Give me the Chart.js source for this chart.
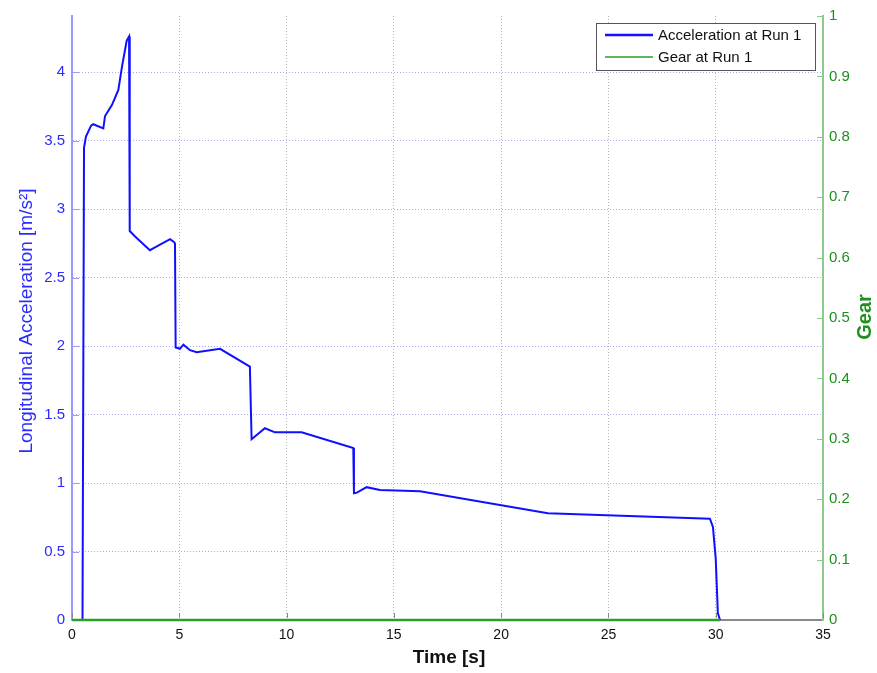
<!DOCTYPE html>
<html>
<head>
<meta charset="utf-8">
<title>Acceleration and gear, run 1</title>
<script src="https://cdn.jsdelivr.net/npm/chart.js@4.4.0/dist/chart.umd.min.js"></script>
<style>
  html, body { margin: 0; padding: 0; background: #fff; }
  canvas { display: block; }
</style>
</head>
<body>
<canvas id="chart" width="877" height="673"></canvas>
<script>
  // run 1 log: time [s], longitudinal acceleration [m/s^2], gear
  var accelTime = [0, 0.49, 0.56, 0.65, 0.89, 0.99, 1.46, 1.54, 1.86, 2.16, 2.33, 2.55, 2.66,
    2.69, 2.94, 3.63, 3.87, 4.57, 4.75, 4.80, 4.83, 5.03, 5.19, 5.50, 5.81, 6.90, 8.29,
    8.37, 8.99, 9.46, 10.70, 13.11, 13.14, 13.28, 13.73, 14.35, 16.22, 19.94, 22.18, 24.92,
    29.73, 29.87, 30.00, 30.04, 30.10, 30.20];
  var accelValues = [0, 0, 3.45, 3.53, 3.61, 3.62, 3.59, 3.68, 3.76, 3.87, 4.04, 4.23, 4.26,
    2.84, 2.80, 2.70, 2.72, 2.78, 2.76, 2.75, 1.99, 1.98, 2.01, 1.97, 1.955, 1.98, 1.85,
    1.32, 1.40, 1.37, 1.37, 1.255, 0.925, 0.93, 0.97, 0.95, 0.94, 0.84, 0.78, 0.765,
    0.74, 0.68, 0.45, 0.29, 0.05, 0];
  var gearTime = [0, 30.2];
  var gearValues = [0, 0];

  var timeTicks = [0, 5, 10, 15, 20, 25, 30, 35];
  var accelTicks = [0, 0.5, 1, 1.5, 2, 2.5, 3, 3.5, 4];
  var gearTicks = [0, 0.1, 0.2, 0.3, 0.4, 0.5, 0.6, 0.7, 0.8, 0.9, 1];

  var seriesLabels = ['Acceleration at Run 1', 'Gear at Run 1'];

  var BLUE = '#1010ff';
  var BLUE_TEXT = '#2b2bff';
  var BLUE_AXIS = '#9a9aff';
  var GREEN = '#2a9e2a';
  var GREEN_TEXT = '#1f8f1f';
  var GREEN_AXIS = '#8cc98c';
  var FONT = '"Liberation Sans", Arial, sans-serif';

  function toPoints(xs, ys) {
    return xs.map(function (x, i) { return { x: x, y: ys[i] }; });
  }

  function keepTicks(list) {
    return function (scale) {
      scale.ticks = list.map(function (v) { return { value: v }; });
    };
  }

  // plain numbers, no trailing ".0"
  function shortLabel(value) {
    return String(Number(value.toFixed(2)));
  }

  // titles, inward tick marks and the boxed legend
  var decorations = {
    id: 'decorations',
    afterDraw: function (chart) {
      var ctx = chart.ctx;
      var area = chart.chartArea;
      var sx = chart.scales.x, sy = chart.scales.y, sg = chart.scales.gear;

      ctx.save();
      ctx.lineWidth = 1;

      ctx.strokeStyle = '#8a8a8a';
      timeTicks.forEach(function (v) {
        var px = Math.round(sx.getPixelForValue(v)) + 0.5;
        ctx.beginPath(); ctx.moveTo(px, area.bottom - 2); ctx.lineTo(px, area.bottom - 7); ctx.stroke();
      });
      ctx.strokeStyle = BLUE_AXIS;
      accelTicks.forEach(function (v) {
        if (v === 0) return;
        var py = Math.round(sy.getPixelForValue(v)) + 0.5;
        ctx.beginPath(); ctx.moveTo(area.left, py); ctx.lineTo(area.left + 7, py); ctx.stroke();
      });
      ctx.strokeStyle = GREEN_AXIS;
      gearTicks.forEach(function (v) {
        if (v === 0) return;
        var py = Math.round(sg.getPixelForValue(v)) + 0.5;
        ctx.beginPath(); ctx.moveTo(area.right, py); ctx.lineTo(area.right - 6, py); ctx.stroke();
      });

      // axis titles
      ctx.textAlign = 'center';
      ctx.textBaseline = 'middle';
      ctx.fillStyle = '#111';
      ctx.font = 'bold 19px ' + FONT;
      ctx.fillText('Time [s]', 449, 658);

      ctx.save();
      ctx.translate(27, 321);
      ctx.rotate(-Math.PI / 2);
      ctx.fillStyle = BLUE_TEXT;
      ctx.font = '19px ' + FONT;
      ctx.fillText('Longitudinal Acceleration [m/s\u00b2]', 0, 0);
      ctx.restore();

      ctx.save();
      ctx.translate(865, 317);
      ctx.rotate(-Math.PI / 2);
      ctx.fillStyle = GREEN_TEXT;
      ctx.font = 'bold 20px ' + FONT;
      ctx.fillText('Gear', 0, 0);
      ctx.restore();

      // legend
      var lx = 596.5, ly = 23.5, lw = 219, lh = 47;
      ctx.fillStyle = '#fff';
      ctx.fillRect(lx, ly, lw, lh);
      ctx.strokeStyle = '#555';
      ctx.strokeRect(lx, ly, lw, lh);
      var rows = [
        { color: BLUE, width: 2.5, y: 35 },
        { color: GREEN, width: 1.5, y: 57 }
      ];
      ctx.textAlign = 'left';
      ctx.font = '15px ' + FONT;
      rows.forEach(function (row, i) {
        ctx.strokeStyle = row.color;
        ctx.lineWidth = row.width;
        ctx.beginPath(); ctx.moveTo(605, row.y); ctx.lineTo(653, row.y); ctx.stroke();
        ctx.fillStyle = '#111';
        ctx.fillText(seriesLabels[i], 658, row.y + 1);
      });
      ctx.restore();
    }
  };

  new Chart(document.getElementById('chart').getContext('2d'), {
    type: 'line',
    data: {
      datasets: [
        {
          label: seriesLabels[1],
          data: toPoints(gearTime, gearValues),
          yAxisID: 'gear',
          borderColor: GREEN,
          borderWidth: 2.5,
          pointRadius: 0,
          clip: false,
          order: 0
        },
        {
          label: seriesLabels[0],
          data: toPoints(accelTime, accelValues),
          yAxisID: 'y',
          borderColor: BLUE,
          borderWidth: 2,
          pointRadius: 0,
          tension: 0,
          clip: false,
          order: 1
        }
      ]
    },
    options: {
      responsive: false,
      animation: false,
      layout: { padding: { top: 15, left: 0, right: 0, bottom: 0 } },
      plugins: {
        legend: { display: false },
        tooltip: { enabled: false }
      },
      scales: {
        x: {
          type: 'linear',
          min: 0,
          max: 35,
          afterBuildTicks: keepTicks(timeTicks),
          afterFit: function (scale) { scale.height = 53; },
          grid: {
            drawTicks: false,
            lineWidth: 1,
            color: function (c) {
              var v = c.tick && c.tick.value;
              return (v === 0 || v === 35) ? 'rgba(0,0,0,0)' : '#b8b8b8';
            }
          },
          border: { color: '#8a8a8a', width: 2, dash: [1, 2] },
          ticks: {
            padding: 7,
            color: '#111',
            font: { family: FONT, size: 14 },
            callback: shortLabel
          }
        },
        y: {
          position: 'left',
          min: 0,
          max: 4.41,
          afterBuildTicks: keepTicks(accelTicks),
          afterFit: function (scale) { scale.width = 72; },
          grid: {
            drawTicks: false,
            lineWidth: 1,
            color: function (c) {
              return (c.tick && c.tick.value === 0) ? 'rgba(0,0,0,0)' : '#a8a8ff';
            }
          },
          border: { color: BLUE_AXIS, width: 2, dash: [1, 2] },
          ticks: {
            padding: 7,
            color: BLUE_TEXT,
            font: { family: FONT, size: 15 },
            callback: shortLabel
          }
        },
        gear: {
          position: 'right',
          min: 0,
          max: 1,
          afterBuildTicks: keepTicks(gearTicks),
          afterFit: function (scale) { scale.width = 54; },
          grid: { display: false, drawTicks: false },
          border: { color: GREEN_AXIS, width: 2 },
          ticks: {
            padding: 6,
            color: GREEN_TEXT,
            font: { family: FONT, size: 15 },
            callback: shortLabel
          }
        }
      }
    },
    plugins: [decorations]
  });
</script>
</body>
</html>
